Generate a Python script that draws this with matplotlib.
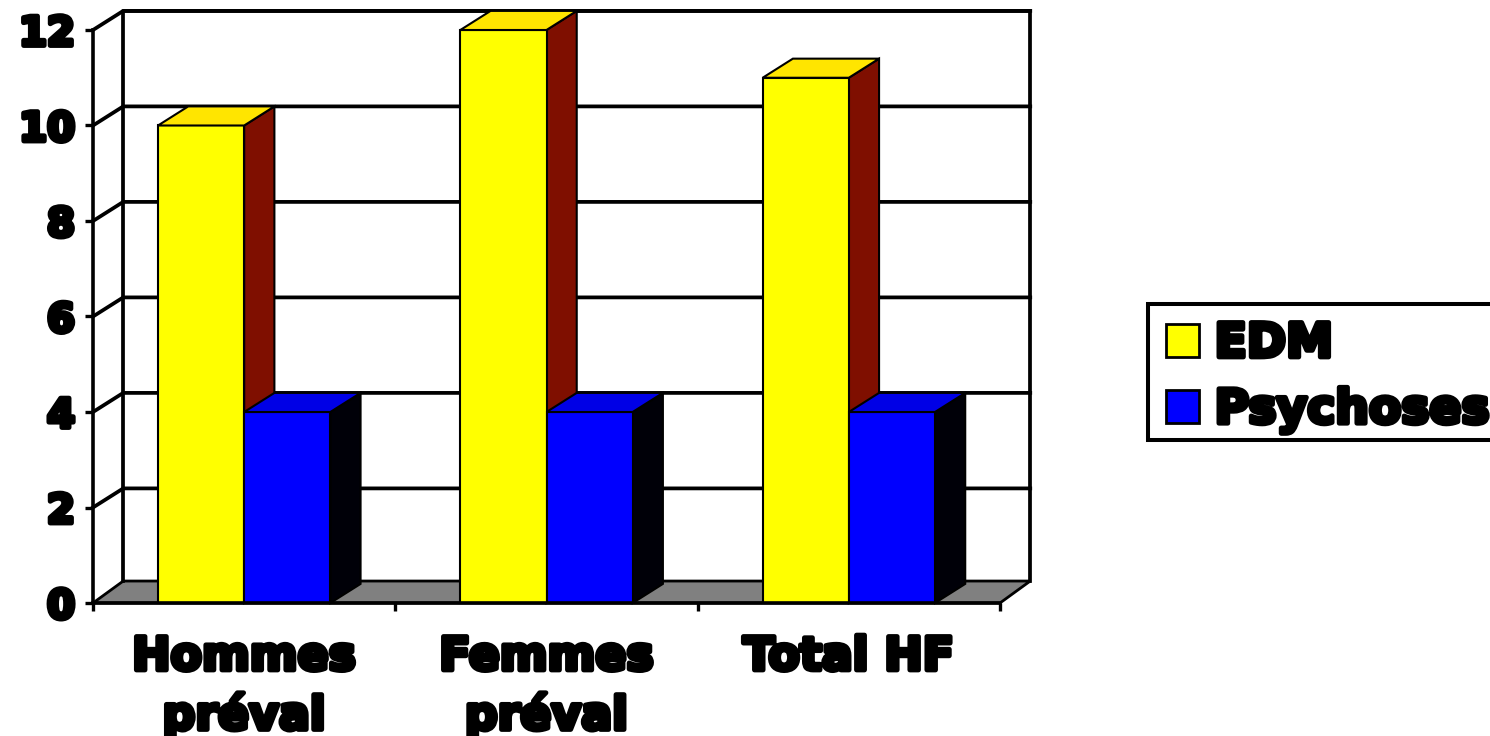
import matplotlib
matplotlib.use('Agg')
import matplotlib.pyplot as plt
import matplotlib.patheffects as pe
from matplotlib.patches import Polygon, Patch, Rectangle

categories = ['Hommes\npréval', 'Femmes\npréval', 'Total HF']
edm = [10, 12, 11]
psychoses = [4, 4, 4]
yticks = [0, 2, 4, 6, 8, 10, 12]

# depth of the fake 3d, in data units
dx = 0.1
dy = 0.4
floor_dy = 0.46
bar_w = 0.285
bar_start = 0.215

bold = [pe.withStroke(linewidth=3.5, foreground='black')]

fig = plt.figure(figsize=(14.9, 7.36), dpi=100)
ax = fig.add_axes([93 / 1490, 133 / 736, 907 / 1490, 573 / 736])
ax.set_xlim(0, 3)
ax.set_ylim(0, 12)


def poly(pts, color, z=3, lw=1.5):
    ax.add_patch(Polygon(pts, closed=True, facecolor=color, edgecolor='black',
                         linewidth=lw, zorder=z, clip_on=False))


# floor and walls
poly([(0, 0), (dx, floor_dy), (3 + dx, floor_dy), (3, 0)], '#808080', 1, 2)
ax.plot([dx, dx, 3 + dx, 3 + dx], [floor_dy, 12 + dy, 12 + dy, floor_dy], color='black', lw=2.7, zorder=1, clip_on=False)
for v in yticks[1:]:
    ax.plot([0, dx, 3 + dx], [v, v + dy, v + dy], color='black', lw=2.7, zorder=1, clip_on=False)


def bar3d(x, h, front, top, side):
    poly([(x, 0), (x + bar_w, 0), (x + bar_w, h), (x, h)], front, 4)
    poly([(x, h), (x + dx, h + dy), (x + bar_w + dx, h + dy), (x + bar_w, h)], top, 4)
    poly([(x + bar_w, 0), (x + bar_w + dx, dy), (x + bar_w + dx, h + dy), (x + bar_w, h)], side, 3)


for i in range(len(categories)):
    bar3d(i + bar_start, edm[i], '#FFFF00', '#FFE500', '#7F0F00')
    bar3d(i + bar_start + bar_w, psychoses[i], '#0000FF', '#0000E6', '#000008')

for s in ['top', 'right']:
    ax.spines[s].set_visible(False)
for s in ['left', 'bottom']:
    ax.spines[s].set_linewidth(2.6)
    ax.spines[s].set_zorder(5)

ax.set_yticks(yticks)
ax.set_xticks([0, 1, 2, 3])
ax.set_xticklabels([])
ax.set_xticks([0.5, 1.5, 2.5], minor=True)
ax.set_xticklabels(categories, minor=True)
ax.tick_params(axis='both', which='major', length=6, width=2.4)
ax.tick_params(axis='x', which='minor', length=0, pad=23)
ax.tick_params(axis='y', pad=7)
for t in ax.get_yticklabels():
    t.set_fontfamily('DejaVu Sans')
    t.set_fontweight('bold')
    t.set_fontsize(29)
    t.set_path_effects(bold)
for t in ax.get_xticklabels(minor=True):
    t.set_fontfamily('DejaVu Sans')
    t.set_fontweight('bold')
    t.set_fontsize(33)
    t.set_linespacing(1.32)
    t.set_path_effects(bold)

# legend frame drawn apart, the descender of the y would make the legend's own box too tall
fig.add_artist(Rectangle((1148 / 1490, 1 - 440 / 736), 360 / 1490, 136 / 736, transform=fig.transFigure,
                         facecolor='white', edgecolor='black', linewidth=2.9))
handles = [Patch(facecolor='#FFFF00', edgecolor='black', linewidth=2, label='EDM'),
           Patch(facecolor='#0000FF', edgecolor='black', linewidth=2, label='Psychoses')]
leg = fig.legend(handles=handles, loc='upper left', bbox_to_anchor=(1148 / 1490, 1 - 304 / 736),
                 frameon=False, borderaxespad=0,
                 prop={'family': 'DejaVu Sans', 'weight': 'bold', 'size': 34},
                 handlelength=0.7, handleheight=0.7, handletextpad=0.33, labelspacing=0.45,
                 borderpad=0.38)
for t in leg.get_texts():
    t.set_path_effects(bold)

fig.savefig('out.png', dpi=100)
